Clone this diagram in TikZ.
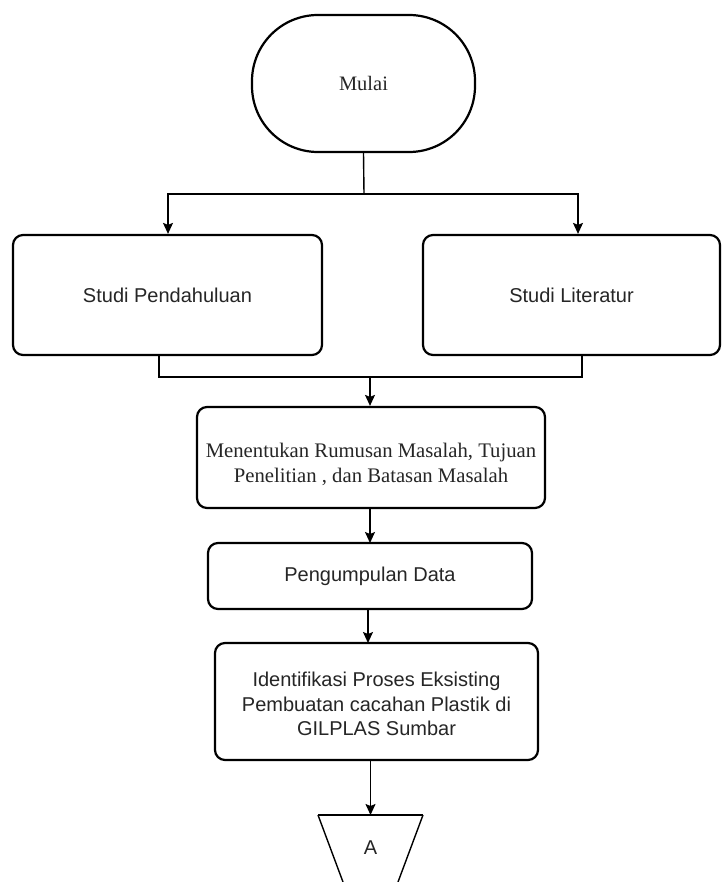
\documentclass[tikz,border=0pt]{standalone}
\usepackage{fontspec}
\setmainfont{Liberation Sans}
\newfontfamily\serifnew{Liberation Serif}
\usetikzlibrary{arrows.meta,positioning,calc}
\tikzset{
  box/.style={draw=black, line width=2.2pt, rounded corners=10pt, fill=white,
    align=center, font=\fontsize{20}{24}\selectfont, text=black!85},
  term/.style={draw=black, line width=2.2pt, rounded corners=66pt, fill=white,
    font=\serifnew\fontsize{20.5}{24}\selectfont, text=black!85},
  conn/.style={line width=1.4pt, -{Stealth[length=11pt,width=10pt,inset=2pt]}},
  plain/.style={line width=1.4pt},
  thick conn/.style={line width=2.2pt}
}
\begin{document}
\begin{tikzpicture}[x=1pt,y=-1pt]
\useasboundingbox (0,0) rectangle (722,882);
\clip (0,0) rectangle (722,882);
\fill[white] (0,0) rectangle (722,882);

% nodes
\node[term, minimum width=223pt, minimum height=137pt] (mulai) at (363.5,83.5) {Mulai};
\node[box, minimum width=309pt, minimum height=120pt] (pend) at (167.5,295) {Studi Pendahuluan};
\node[box, minimum width=297pt, minimum height=120pt] (lit) at (571.5,295) {Studi Literatur};
\node[box, minimum width=348pt, minimum height=101pt] (rum) at (371,457.5) {};
\node[font=\serifnew\fontsize{20.7}{25}\selectfont, text=black!85, align=center] (rumtext) at (371,464)
  {Menentukan Rumusan Masalah, Tujuan\\Penelitian , dan Batasan Masalah};
\node[box, minimum width=324pt, minimum height=66pt] (data) at (370,576) {Pengumpulan Data};
\node[box, minimum width=323pt, minimum height=117pt] (ident) at (376.5,701.5) {};
\node[font=\fontsize{20}{24.5}\selectfont, text=black!85, align=center] (identtext) at (376.5,704)
  {Identifikasi Proses Eksisting\\Pembuatan cacahan Plastik di\\GILPLAS Sumbar};

% off-page connector (trapezoid, clipped)
\coordinate (tl) at (318,815);
\coordinate (tr) at (423,815);
\draw[line width=1.4pt] (tl) -- (tr);
\draw[line width=1.4pt] (tl) -- ($(tl)!1.25!(343,882)$);
\draw[line width=1.4pt] (tr) -- ($(tr)!1.25!(398,882)$);
\coordinate (offtop) at (370.5,815);
\node[font=\fontsize{20}{24}\selectfont, text=black!85] (A) at (370.5,848) {A};

% connectors
\coordinate (split) at (364,194);
\coordinate (pendin) at (168,194);
\coordinate (litin) at (578,194);
\draw[plain] (mulai.south) -- (split);
\draw[conn] (split) -- (pendin) -- (pendin |- pend.north);
\draw[conn] (split) -- (litin) -- (litin |- lit.north);

\coordinate (pendout) at (159,377);
\coordinate (litout) at (582,377);
\coordinate (merge) at (370,377);
\draw[thick conn] (pendout |- pend.south) -- (pendout) -- (litout) -- (litout |- lit.south);
\draw[conn] (merge) -- (merge |- rum.north);

\draw[conn] (370,508) -- (370,543);
\draw[conn] (368,609) -- (368,643);
\draw[conn] (370.5,760) -- (offtop);
\end{tikzpicture}
\end{document}
